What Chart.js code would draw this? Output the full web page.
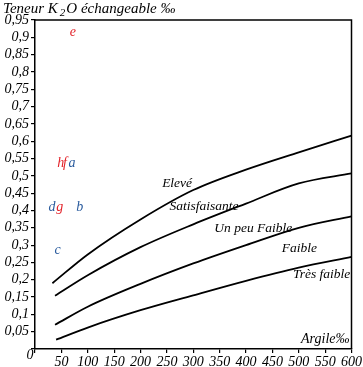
<!DOCTYPE html>
<html>
<head>
<meta charset="utf-8">
<script src="https://cdn.jsdelivr.net/npm/chart.js@4.4.1/dist/chart.umd.min.js"></script>
<style>
  body { margin: 0; background: #fff; }
  canvas { display: block; }
</style>
</head>
<body>
<canvas id="chart" width="363" height="367"></canvas>
<script>
// Curves (Argile ‰ vs Teneur K2O échangeable ‰)
const argileEleve = [33, 100, 200, 300, 400, 500, 600];
const k2oEleve = [0.19, 0.273, 0.374, 0.459, 0.518, 0.568, 0.616];

const argileSatis = [38, 100, 200, 300, 400, 500, 600];
const k2oSatis = [0.154, 0.213, 0.294, 0.36, 0.42, 0.478, 0.507];

const argilePeuFaible = [38, 100, 200, 300, 400, 500, 600];
const k2oPeuFaible = [0.07, 0.122, 0.188, 0.247, 0.30, 0.35, 0.383];

const argileTresFaible = [40, 100, 200, 300, 400, 500, 600];
const k2oTresFaible = [0.027, 0.062, 0.112, 0.155, 0.197, 0.235, 0.266];

// sample points, drawn as letters
const sampleLetters = ['e', 'h', 'f', 'a', 'd', 'g', 'b', 'c'];
const sampleArgile = [72, 49, 57, 70, 32, 47, 85, 43];
const sampleK2O = [0.914, 0.535, 0.535, 0.535, 0.409, 0.409, 0.409, 0.284];
const sampleGroup = [1, 1, 1, 0, 0, 1, 0, 0];

// class names along the curves
const classNames = ['Elevé', 'Satisfaisante', 'Un peu Faible', 'Faible', 'Très faible'];
const classArgile = [241, 255, 340, 468, 489];
const classK2O = [0.478, 0.412, 0.349, 0.291, 0.214];

const xTicks = [0, 50, 100, 150, 200, 250, 300, 350, 400, 450, 500, 550, 600];

const FAMILY = '"Liberation Serif", "DejaVu Serif", serif';
const groupColors = ['#2b5c9e', '#e3242b'];

const pts = (xs, ys) => xs.map((x, i) => ({ x: x, y: ys[i] }));

const curve = (data) => ({
  type: 'line',
  data: data,
  borderColor: '#000',
  borderWidth: 1.8,
  pointRadius: 0,
  fill: false,
  cubicInterpolationMode: 'monotone'
});

// letters, labels, frame and axis title
const annotations = {
  id: 'annotations',
  afterDraw(chart) {
    const ctx = chart.ctx;
    const xs = chart.scales.x, ys = chart.scales.y;
    const a = chart.chartArea;
    ctx.save();

    // box around the plot
    ctx.strokeStyle = '#000';
    ctx.lineWidth = 1.5;
    ctx.beginPath();
    ctx.moveTo(a.left, a.top);
    ctx.lineTo(a.right, a.top);
    ctx.lineTo(a.right, a.bottom);
    ctx.stroke();

    ctx.textBaseline = 'middle';

    // sample letters
    ctx.font = 'italic 14px ' + FAMILY;
    ctx.textAlign = 'center';
    sampleLetters.forEach((t, i) => {
      ctx.fillStyle = groupColors[sampleGroup[i]];
      ctx.fillText(t, xs.getPixelForValue(sampleArgile[i]), ys.getPixelForValue(sampleK2O[i]));
    });

    // class labels
    ctx.font = 'italic 13.5px ' + FAMILY;
    ctx.fillStyle = '#000';
    ctx.textAlign = 'left';
    classNames.forEach((t, i) => {
      ctx.fillText(t, xs.getPixelForValue(classArgile[i]), ys.getPixelForValue(classK2O[i]));
    });

    // x axis title inside the plot
    ctx.font = 'italic 14px ' + FAMILY;
    ctx.textAlign = 'right';
    ctx.fillText('Argile‰', a.right - 2, a.bottom - 10);

    // origin label
    ctx.textAlign = 'center';
    ctx.fillText('0', a.left - 5, a.bottom + 6);

    // y axis title with subscript
    ctx.font = 'italic 15px ' + FAMILY;
    ctx.textAlign = 'left';
    ctx.textBaseline = 'alphabetic';
    let x = 3;
    const base = 13;
    ctx.fillText('Teneur K', x, base);
    x += ctx.measureText('Teneur K').width + 2;
    ctx.font = 'italic 11px ' + FAMILY;
    ctx.fillText('2', x, base + 3);
    x += ctx.measureText('2').width + 1;
    ctx.font = 'italic 15px ' + FAMILY;
    ctx.fillText('O échangeable ‰', x, base);

    ctx.restore();
  }
};

const tickFont = { family: FAMILY, style: 'italic', size: 14 };

new Chart(document.getElementById('chart').getContext('2d'), {
  type: 'line',
  data: {
    datasets: [
      curve(pts(argileEleve, k2oEleve)),
      curve(pts(argileSatis, k2oSatis)),
      curve(pts(argilePeuFaible, k2oPeuFaible)),
      curve(pts(argileTresFaible, k2oTresFaible))
    ]
  },
  options: {
    responsive: false,
    animation: false,
    layout: { padding: { top: 20, right: 10, left: 0, bottom: 0 } },
    plugins: {
      legend: { display: false },
      tooltip: { enabled: false }
    },
    scales: {
      x: {
        type: 'linear',
        min: 0,
        max: 600,
        afterBuildTicks: (s) => { s.ticks = xTicks.map(v => ({ value: v })); },
        afterFit: (s) => { s.height = 18; },
        grid: { display: true, drawOnChartArea: false, drawTicks: true, tickLength: 4, color: '#000', lineWidth: 1.2 },
        border: { display: true, color: '#000', width: 1.5 },
        ticks: {
          color: '#000',
          font: tickFont,
          padding: 1,
          maxRotation: 0,
          autoSkip: false,
          callback: (v) => (v === 0 ? '' : String(v))
        }
      },
      y: {
        min: 0,
        max: 0.95,
        afterFit: (s) => { s.width = 35; },
        grid: { display: true, drawOnChartArea: false, drawTicks: true, tickLength: 4, color: '#000', lineWidth: 1.2 },
        border: { display: true, color: '#000', width: 1.5 },
        ticks: {
          stepSize: 0.05,
          color: '#000',
          font: tickFont,
          padding: 2,
          autoSkip: false,
          callback: (v) => {
            const r = Math.round(v * 100) / 100;
            return r === 0 ? '' : String(r).replace('.', ',');
          }
        }
      }
    }
  },
  plugins: [annotations]
});
</script>
</body>
</html>
